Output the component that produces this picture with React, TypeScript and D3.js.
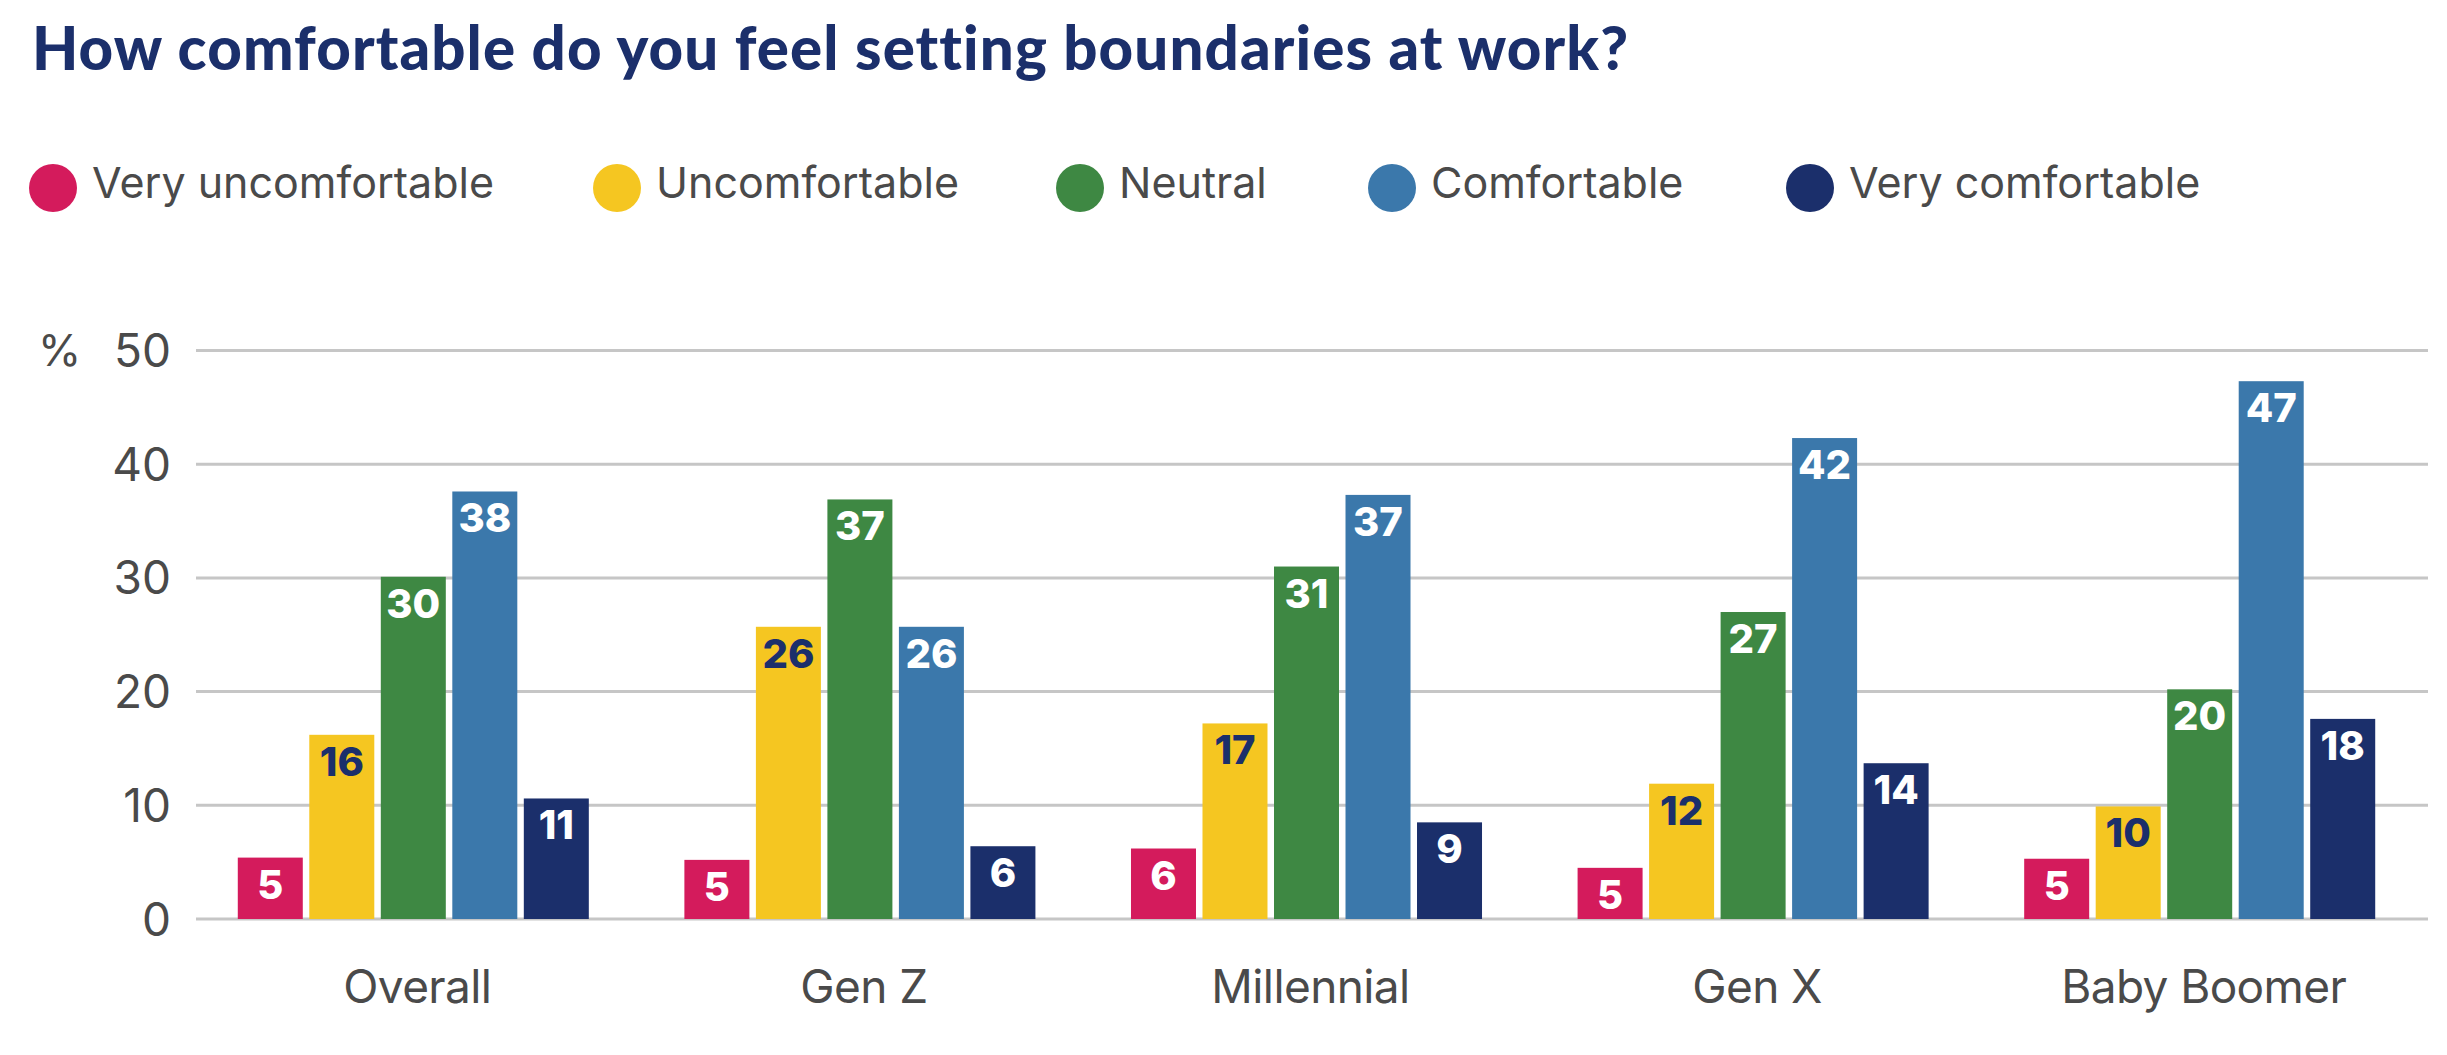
import React, { useEffect, useRef } from 'react';
import * as d3 from 'd3';

const WIDTH = 2447;
const HEIGHT = 1055;

// dados
const groups = ['Overall', 'Gen Z', 'Millennial', 'Gen X', 'Baby Boomer'];
const seriesNames = ['Very uncomfortable', 'Uncomfortable', 'Neutral', 'Comfortable', 'Very comfortable'];
const veryUncomfortable = [5.4, 5.2, 6.2, 4.5, 5.3];
const uncomfortable = [16.2, 25.7, 17.2, 11.9, 9.9];
const neutral = [30.1, 36.9, 31.0, 27.0, 20.2];
const comfortable = [37.6, 25.7, 37.3, 42.3, 47.3];
const veryComfortable = [10.6, 6.4, 8.5, 13.7, 17.6];
const yTicks = [0, 10, 20, 30, 40, 50];

const seriesColors = ['#d41b5c', '#f5c621', '#3e8843', '#3b78ab', '#1b2f6b'];
const labelColors = ['#ffffff', '#1b2f6b', '#ffffff', '#ffffff', '#ffffff'];
const legendX = [53, 617, 1080, 1392, 1810];

const FONT = 'Inter, "Noto Sans", sans-serif';
const TEXT_GRAY = '#4a4a4a';
const NAVY = '#1b2f6b';

export default function App() {
  const svgRef = useRef<SVGSVGElement>(null);

  useEffect(() => {
    if (!svgRef.current) return;
    const svg = d3.select(svgRef.current);
    svg.selectAll('*').remove();

    const values = [veryUncomfortable, uncomfortable, neutral, comfortable, veryComfortable];
    const rows = groups.map((g, gi) => ({
      group: g,
      bars: seriesNames.map((s, si) => ({ series: s, si, value: values[si][gi] }))
    }));

    const gridLeft = 196;
    const gridRight = 2428;

    const x0 = d3.scaleBand()
      .domain(groups)
      .range([190, 2423])
      .paddingInner(0.214)
      .paddingOuter(0.107);

    const x1 = d3.scaleBand()
      .domain(seriesNames)
      .range([0, x0.bandwidth()])
      .paddingInner(0.091);

    const y = d3.scaleLinear()
      .domain([0, 50])
      .range([919, 350.5]);

    // Título
    svg.append('text')
      .attr('x', 32)
      .attr('y', 70)
      .attr('fill', NAVY)
      .attr('font-family', 'Lato, sans-serif')
      .attr('font-weight', 900)
      .attr('font-size', 60)
      .attr('letter-spacing', 1.1)
      .text('How comfortable do you feel setting boundaries at work?');

    // Legenda
    const legend = svg.append('g');
    seriesNames.forEach((name, i) => {
      legend.append('circle')
        .attr('cx', legendX[i])
        .attr('cy', 188)
        .attr('r', 24)
        .attr('fill', seriesColors[i]);
      legend.append('text')
        .attr('x', legendX[i] + 39)
        .attr('y', 198)
        .attr('fill', TEXT_GRAY)
        .attr('font-family', FONT)
        .attr('font-size', 43)
        .text(name);
    });

    // Grade
    svg.append('g')
      .selectAll('line')
      .data(yTicks)
      .join('line')
      .attr('x1', gridLeft)
      .attr('x2', gridRight)
      .attr('y1', d => y(d))
      .attr('y2', d => y(d))
      .attr('stroke', '#c6c6c6')
      .attr('stroke-width', 3);

    // Eixo Y
    svg.append('g')
      .selectAll('text')
      .data(yTicks)
      .join('text')
      .attr('x', 171)
      .attr('y', d => y(d))
      .attr('dy', '0.36em')
      .attr('text-anchor', 'end')
      .attr('fill', TEXT_GRAY)
      .attr('font-family', FONT)
      .attr('font-size', 46)
      .text(d => d);

    svg.append('text')
      .attr('x', 38)
      .attr('y', y(50))
      .attr('dy', '0.36em')
      .attr('fill', TEXT_GRAY)
      .attr('font-family', FONT)
      .attr('font-size', 44)
      .text('%');

    // Barras
    const groupSel = svg.append('g')
      .selectAll('g')
      .data(rows)
      .join('g')
      .attr('transform', d => `translate(${x0(d.group)},0)`);

    groupSel.selectAll('rect')
      .data(d => d.bars)
      .join('rect')
      .attr('x', d => x1(d.series) || 0)
      .attr('y', d => y(d.value))
      .attr('width', x1.bandwidth())
      .attr('height', d => y(0) - y(d.value))
      .attr('fill', d => seriesColors[d.si]);

    groupSel.selectAll('text')
      .data(d => d.bars)
      .join('text')
      .attr('x', d => (x1(d.series) || 0) + x1.bandwidth() / 2)
      .attr('y', d => y(d.value) + 41)
      .attr('text-anchor', 'middle')
      .attr('fill', d => labelColors[d.si])
      .attr('font-family', FONT)
      .attr('font-weight', 800)
      .attr('font-size', 40)
      .text(d => Math.round(d.value));

    // Rótulos do eixo X
    svg.append('g')
      .selectAll('text')
      .data(groups)
      .join('text')
      .attr('x', d => (x0(d) || 0) + x0.bandwidth() / 2 + 4)
      .attr('y', 1003)
      .attr('text-anchor', 'middle')
      .attr('fill', TEXT_GRAY)
      .attr('font-family', FONT)
      .attr('font-size', 46)
      .attr('letter-spacing', -0.6)
      .text(d => d);
  }, []);

  return (
    <svg
      ref={svgRef}
      width={WIDTH}
      height={HEIGHT}
      style={{ position: 'absolute', left: 0, top: 0, background: '#fff' }}
    />
  );
}
